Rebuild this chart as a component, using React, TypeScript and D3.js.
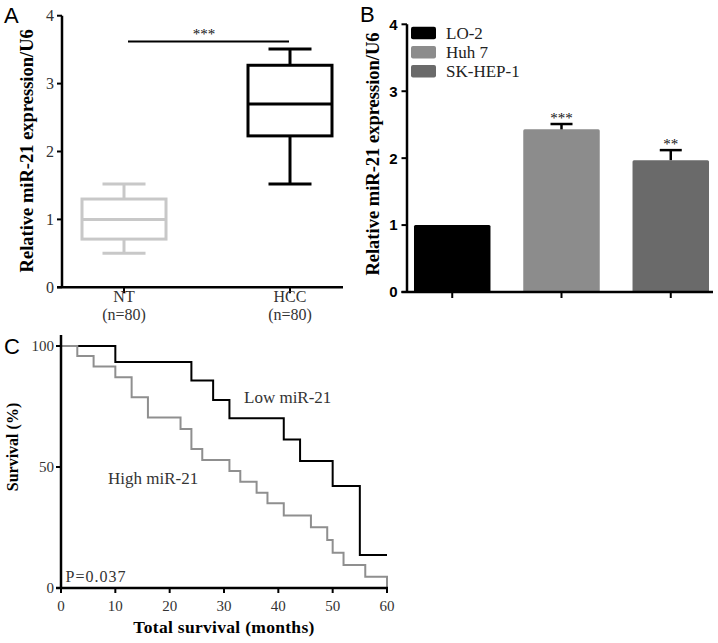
import React from 'react';
import * as d3 from 'd3';

// ---------- Panel A data (box plot) ----------
const boxGroups = ['NT', 'HCC'];
const boxGroupN = ['(n=80)', '(n=80)'];
const boxMin = [0.5, 1.52];
const boxQ1 = [0.71, 2.23];
const boxMedian = [1.0, 2.7];
const boxQ3 = [1.3, 3.27];
const boxMax = [1.52, 3.51];
const boxSigLevel = 3.62;
const boxSigLabel = '***';

// ---------- Panel B data (bar chart) ----------
const cellLines = ['LO-2', 'Huh 7', 'SK-HEP-1'];
const cellMeans = [1.0, 2.43, 1.97];
const cellErrors = [0, 0.08, 0.15];
const cellSig = ['', '***', '**'];

const yTicksAB = [0, 1, 2, 3, 4];

// ---------- Panel C data (Kaplan-Meier) ----------
const lowTimes = [0, 10, 24, 28, 31, 41, 44, 50, 55, 60];
const lowSurvival = [100, 93.4, 85.7, 77.7, 70.1, 61.4, 52.5, 42.1, 13.6, 13.6];
const highTimes = [0, 3, 6, 10, 13, 16, 22, 24, 26, 31, 33, 36, 38, 41, 46, 49, 50, 52, 56, 60];
const highSurvival = [100, 95.9, 91.5, 87.1, 78.8, 70.5, 65.7, 57.4, 52.9, 48.3, 43.9, 39.4, 35.0, 30.0, 25.1, 19.8, 14.6, 9.5, 4.7, 0];
const kmXTicks = [0, 10, 20, 30, 40, 50, 60];
const kmYTicks = [0, 50, 100];

// ---------- styles ----------
const SERIF = "'Liberation Serif', 'Times New Roman', serif";
const SANS = "'Liberation Sans', Arial, sans-serif";
const TXT = '#333';
const NT_COLOR = '#c8c8c8';
const BAR_COLORS = ['#000000', '#8c8c8c', '#6a6a6a'];
const HIGH_COLOR = '#8f8f8f';

function PanelA() {
  const y = d3.scaleLinear().domain([0, 4]).range([287.3, 15.7]);
  const x = d3.scalePoint<string>().domain(boxGroups).range([62, 352]).padding(0.3735);
  const boxHalf = 42;
  const capHalf = 21.5;
  const sw = 3;
  return (
    <g>
      <text x={4} y={22.5} fontFamily={SANS} fontSize={22} fill="#000">A</text>
      <line x1={62} x2={62} y1={y(4)} y2={y(0)} stroke="#000" strokeWidth={2.5} />
      <line x1={57} x2={343} y1={y(0)} y2={y(0)} stroke="#000" strokeWidth={2.5} />
      {yTicksAB.map((t) => (
        <g key={t}>
          <line x1={57} x2={62} y1={y(t)} y2={y(t)} stroke="#000" strokeWidth={2} />
          <text x={54} y={y(t)} dy="0.35em" textAnchor="end" fontFamily={SERIF} fontSize={16} fill={TXT}>{t}</text>
        </g>
      ))}
      {boxGroups.map((g, i) => (
        <g key={g}>
          <line x1={x(g)} x2={x(g)} y1={y(0)} y2={y(0) + 6} stroke="#000" strokeWidth={2} />
          <text x={x(g)} y={301.5} textAnchor="middle" fontFamily={SERIF} fontSize={16} fill={TXT}>{g}</text>
          <text x={x(g)} y={320} textAnchor="middle" fontFamily={SERIF} fontSize={16} fill={TXT}>{boxGroupN[i]}</text>
        </g>
      ))}
      <text transform={`translate(33,150.8) rotate(-90)`} textAnchor="middle" fontFamily={SERIF} fontWeight="bold" fontSize={18.5} fill="#000">Relative miR-21 expression/U6</text>
      {boxGroups.map((g, i) => {
        const cx = x(g)!;
        const col = i === 0 ? NT_COLOR : '#000';
        return (
          <g key={g} stroke={col} strokeWidth={sw} fill="none">
            <line x1={cx} x2={cx} y1={y(boxMax[i])} y2={y(boxQ3[i])} />
            <line x1={cx} x2={cx} y1={y(boxQ1[i])} y2={y(boxMin[i])} />
            <line x1={cx - capHalf} x2={cx + capHalf} y1={y(boxMax[i])} y2={y(boxMax[i])} />
            <line x1={cx - capHalf} x2={cx + capHalf} y1={y(boxMin[i])} y2={y(boxMin[i])} />
            <rect x={cx - boxHalf} y={y(boxQ3[i])} width={boxHalf * 2} height={y(boxQ1[i]) - y(boxQ3[i])} />
            <line x1={cx - boxHalf} x2={cx + boxHalf} y1={y(boxMedian[i])} y2={y(boxMedian[i])} />
          </g>
        );
      })}
      <line x1={128} x2={289} y1={y(boxSigLevel)} y2={y(boxSigLevel)} stroke="#000" strokeWidth={2} />
      <text x={(x('NT')! + x('HCC')!) / 2 - 3} y={39} textAnchor="middle" fontFamily={SERIF} fontSize={15} fill="#111">{boxSigLabel}</text>
    </g>
  );
}

function PanelB() {
  const y = d3.scaleLinear().domain([0, 4]).range([292, 24.3]);
  const x = d3.scaleBand<string>().domain(cellLines).range([407, 716]).paddingInner(0.3).paddingOuter(0.064);
  const capHalf = 11;
  return (
    <g>
      <text x={360} y={22} fontFamily={SANS} fontSize={22} fill="#000">B</text>
      {cellLines.map((c, i) => (
        <rect key={c} x={x(c)} y={y(cellMeans[i])} width={x.bandwidth()} height={y(0) - y(cellMeans[i])} fill={BAR_COLORS[i]} rx={1.5} />
      ))}
      {cellLines.map((c, i) => {
        if (!cellErrors[i]) return null;
        const cx = x(c)! + x.bandwidth() / 2;
        const top = y(cellMeans[i] + cellErrors[i]);
        return (
          <g key={c}>
            <line x1={cx} x2={cx} y1={y(cellMeans[i])} y2={top} stroke="#000" strokeWidth={2.5} />
            <line x1={cx - capHalf} x2={cx + capHalf} y1={top} y2={top} stroke="#000" strokeWidth={2.5} />
            <text x={cx} y={top - 1.5} textAnchor="middle" fontFamily={SERIF} fontSize={15} fill="#111">{cellSig[i]}</text>
          </g>
        );
      })}
      <line x1={407} x2={407} y1={y(4)} y2={y(0)} stroke="#000" strokeWidth={2.5} />
      <line x1={401.5} x2={713} y1={y(0)} y2={y(0)} stroke="#000" strokeWidth={2.5} />
      {yTicksAB.map((t) => (
        <g key={t}>
          <line x1={401.5} x2={407} y1={y(t)} y2={y(t)} stroke="#000" strokeWidth={2} />
          <text x={397.5} y={y(t)} dy="0.36em" textAnchor="end" fontFamily={SANS} fontWeight="bold" fontSize={15} fill="#000">{t}</text>
        </g>
      ))}
      {cellLines.map((c) => {
        const cx = x(c)! + x.bandwidth() / 2;
        return <line key={c} x1={cx} x2={cx} y1={y(0)} y2={y(0) + 6} stroke="#000" strokeWidth={2} />;
      })}
      <text transform={`translate(379,154) rotate(-90)`} textAnchor="middle" fontFamily={SERIF} fontWeight="bold" fontSize={18.5} fill="#000">Relative miR-21 expression/U6</text>
      {cellLines.map((c, i) => (
        <g key={c} transform={`translate(411,${26.7 + i * 19.2})`}>
          <rect x={0} y={0} width={25} height={12.5} fill={BAR_COLORS[i]} rx={2} />
          <text x={35} y={12} fontFamily={SERIF} fontSize={17} fill="#222">{c}</text>
        </g>
      ))}
    </g>
  );
}

function PanelC() {
  const x = d3.scaleLinear().domain([0, 60]).range([61, 387]);
  const y = d3.scaleLinear().domain([0, 100]).range([588, 346]);
  const line = d3.line<[number, number]>().x((d) => x(d[0])).y((d) => y(d[1])).curve(d3.curveStepAfter);
  const low = lowTimes.map((t, i) => [t, lowSurvival[i]] as [number, number]);
  const high = highTimes.map((t, i) => [t, highSurvival[i]] as [number, number]);
  return (
    <g>
      <text x={4} y={354} fontFamily={SANS} fontSize={22} fill="#000">C</text>
      <path d={line(low) || ''} fill="none" stroke="#000" strokeWidth={2} />
      <path d={line(high) || ''} fill="none" stroke={HIGH_COLOR} strokeWidth={2} />
      <line x1={61} x2={61} y1={335} y2={y(0)} stroke="#000" strokeWidth={2.5} />
      <line x1={56} x2={388} y1={y(0)} y2={y(0)} stroke="#000" strokeWidth={2.5} />
      {kmYTicks.map((t) => (
        <g key={t}>
          <line x1={56} x2={61} y1={y(t)} y2={y(t)} stroke="#000" strokeWidth={2} />
          <text x={54} y={y(t)} dy="0.35em" textAnchor="end" fontFamily={SERIF} fontSize={15} fill={TXT}>{t}</text>
        </g>
      ))}
      {kmXTicks.map((t) => (
        <g key={t}>
          <line x1={x(t)} x2={x(t)} y1={y(0)} y2={y(0) + 5} stroke="#000" strokeWidth={2} />
          <text x={x(t)} y={611} textAnchor="middle" fontFamily={SERIF} fontSize={15} fill={TXT}>{t}</text>
        </g>
      ))}
      <text x={224} y={633} textAnchor="middle" fontFamily={SERIF} fontWeight="bold" fontSize={17.5} letterSpacing={0.3} fill="#000">Total survival (months)</text>
      <text transform={`translate(18,447) rotate(-90)`} textAnchor="middle" fontFamily={SERIF} fontWeight="bold" fontSize={16} fill="#000">Survival (%)</text>
      <text x={244} y={402.5} fontFamily={SERIF} fontSize={17} fill={TXT}>Low miR-21</text>
      <text x={108} y={484} fontFamily={SERIF} fontSize={17} fill={TXT}>High miR-21</text>
      <text x={65.5} y={581.5} fontFamily={SERIF} fontSize={16} letterSpacing={1} fill={TXT}>P=0.037</text>
    </g>
  );
}

export default function App() {
  return (
    <svg width={718} height={643} viewBox="0 0 718 643" style={{ position: 'absolute', left: 0, top: 0, background: '#fff' }}>
      <rect x={0} y={0} width={718} height={643} fill="#fff" />
      <PanelA />
      <PanelB />
      <PanelC />
    </svg>
  );
}
